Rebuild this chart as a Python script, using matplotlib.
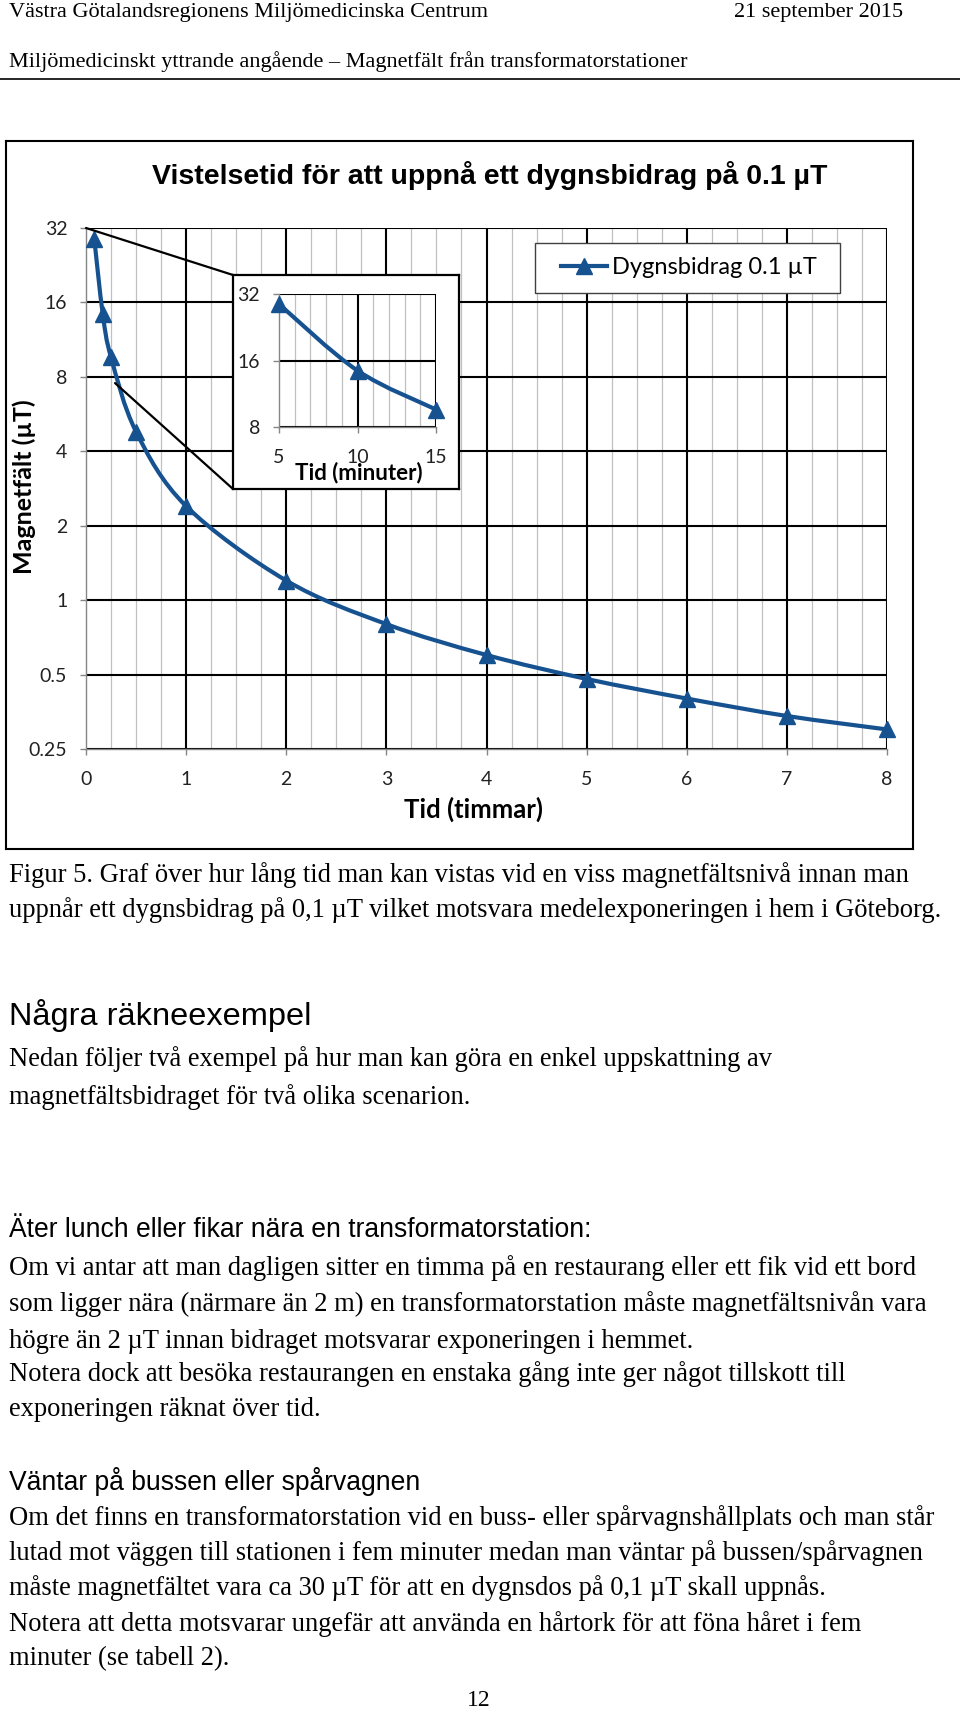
import matplotlib
matplotlib.use('Agg')
import matplotlib.pyplot as plt
import numpy as np
from matplotlib.path import Path
from matplotlib.patches import PathPatch, Rectangle, ConnectionPatch
from matplotlib.lines import Line2D
from matplotlib.ticker import FixedLocator, NullLocator, MultipleLocator

# data
tid_timmar = [0.083, 0.167, 0.25, 0.5, 1, 2, 3, 4, 5, 6, 7, 8]
falt_ut = [28.8, 14.4, 9.6, 4.8, 2.4, 1.2, 0.8, 0.6, 0.48, 0.4, 0.34, 0.3]
tid_minuter = [5, 10, 15]
falt_inset = [28.8, 14.4, 9.6]
x_ticks = [0, 1, 2, 3, 4, 5, 6, 7, 8]
y_ticks = [0.25, 0.5, 1, 2, 4, 8, 16, 32]
y_ticklabels = ['0.25', '0.5', '1', '2', '4', '8', '16', '32']
inset_x_ticks = [5, 10, 15]
inset_y_ticks = [8, 16, 32]
inset_y_ticklabels = ['8', '16', '32']

title = 'Vistelsetid för att uppnå ett dygnsbidrag på 0.1 µT'
serie_namn = 'Dygnsbidrag 0.1 µT'

W, H = 960, 1714
BLUE = '#175290'
SERIF = ['Liberation Serif', 'DejaVu Serif']
SANS = ['Liberation Sans', 'DejaVu Sans']
plt.rcParams['font.family'] = ['Lato', 'DejaVu Sans']


def fx(px):
    return px / W


def fy(py):
    return 1 - py / H


def smooth_line(ax, xs, ys, **kw):
    # excel style smoothed line (catmull-rom as bezier), built in log2 space
    p = np.column_stack([xs, np.log2(ys)])
    n = len(p)
    verts = [p[0]]
    codes = [Path.MOVETO]
    for i in range(n - 1):
        p0 = p[max(i - 1, 0)]
        p1 = p[i]
        p2 = p[i + 1]
        p3 = p[min(i + 2, n - 1)]
        verts += [p1 + (p2 - p0) / 6, p2 - (p3 - p1) / 6, p2]
        codes += [Path.CURVE4] * 3
    verts = np.array(verts)
    verts[:, 1] = 2 ** verts[:, 1]
    ax.add_patch(PathPatch(Path(verts, codes), fill=False, transform=ax.transData,
                           capstyle='round', joinstyle='round', **kw))


def style_grid(ax):
    ax.set_yscale('log', base=2)
    ax.yaxis.set_minor_locator(NullLocator())
    ax.grid(which='major', color='black', lw=1.5)
    ax.grid(which='minor', axis='x', color='#c0c0c0', lw=0.9)
    ax.tick_params(which='minor', length=0)
    ax.tick_params(which='major', length=4.5, width=1, color='#868686',
                   labelsize=14, labelcolor='#222222')
    ax.tick_params(axis='x', pad=11.5)
    ax.tick_params(axis='y', pad=9)
    for s in ['top', 'right']:
        ax.spines[s].set_visible(False)
    for s in ['left', 'bottom']:
        ax.spines[s].set_color('#868686')
        ax.spines[s].set_linewidth(1)
    ax.set_axisbelow(True)


fig = plt.figure(figsize=(W / 100, H / 100), dpi=100)

# chart frame
frame = fig.add_axes([fx(6), fy(849), fx(913) - fx(6), fy(141) - fy(849)], zorder=-1)
frame.set_xticks([])
frame.set_yticks([])
for s in frame.spines.values():
    s.set_linewidth(1.5)

# main chart
ax = fig.add_axes([fx(86), fy(749), fx(887) - fx(86), fy(228) - fy(749)], zorder=0)
style_grid(ax)
ax.set_xlim(0, 8)
ax.set_ylim(0.25, 32)
ax.set_xticks(x_ticks)
ax.xaxis.set_minor_locator(MultipleLocator(0.25))
ax.yaxis.set_major_locator(FixedLocator(y_ticks))
ax.set_yticklabels(y_ticklabels)
ax.xaxis.get_gridlines()[0].set_visible(False)
smooth_line(ax, tid_timmar, falt_ut, color=BLUE, lw=3, zorder=3)
ax.plot(tid_timmar, falt_ut, ls='none', marker='^', ms=12, color=BLUE, clip_on=False, zorder=4)
ax.set_xlim(0, 8)
ax.set_ylim(0.25, 32)

fig.text(fx(490), fy(175), title, ha='center', va='center', fontsize=20.5, fontweight='bold',
         family=['Liberation Sans Narrow', 'Liberation Sans', 'DejaVu Sans'])
fig.text(fx(24), fy(487), 'Magnetfält (µT)', rotation=90, ha='center', va='center',
         fontsize=18, fontweight='bold')
fig.text(fx(473), fy(809), 'Tid (timmar)', ha='center', va='center', fontsize=18.5, fontweight='bold')

# legend
fig.add_artist(Rectangle((fx(535), fy(293)), fx(840) - fx(535), fy(243) - fy(293),
                         transform=fig.transFigure, facecolor='white', edgecolor='#404040',
                         lw=1, zorder=2))
h = Line2D([], [], color=BLUE, lw=3, marker='^', ms=12)
fig.legend([h], [serie_namn], loc='center', bbox_to_anchor=(fx(689), fy(268)), frameon=False,
           fontsize=17, handlelength=1.95, handletextpad=0.2, borderpad=0, borderaxespad=0)

# inset
frame_in = fig.add_axes([fx(233), fy(489), fx(459) - fx(233), fy(275) - fy(489)], zorder=3)
frame_in.set_xticks([])
frame_in.set_yticks([])
for s in frame_in.spines.values():
    s.set_linewidth(1.6)

axi = fig.add_axes([fx(279), fy(427), fx(436) - fx(279), fy(294) - fy(427)], zorder=4)
style_grid(axi)
axi.set_xlim(5, 15)
axi.set_ylim(8, 32)
axi.set_xticks(inset_x_ticks)
axi.xaxis.set_minor_locator(MultipleLocator(1))
axi.yaxis.set_major_locator(FixedLocator(inset_y_ticks))
axi.set_yticklabels(inset_y_ticklabels)
axi.xaxis.get_gridlines()[0].set_visible(False)
smooth_line(axi, tid_minuter, falt_inset, color=BLUE, lw=3, zorder=3)
axi.plot(tid_minuter, falt_inset, ls='none', marker='^', ms=12, color=BLUE, clip_on=False, zorder=4)
axi.set_xlim(5, 15)
axi.set_ylim(8, 32)
fig.text(fx(359), fy(473), 'Tid (minuter)', ha='center', va='center', fontsize=16,
         fontweight='bold', zorder=6)

con1 = ConnectionPatch(xyA=(0, 32), coordsA='data', axesA=ax, xyB=(0, 1),
                       coordsB='axes fraction', axesB=frame_in, color='black', lw=1.6, zorder=5)
con2 = ConnectionPatch(xyA=(0.29, 7.55), coordsA='data', axesA=ax, xyB=(0, 0),
                       coordsB='axes fraction', axesB=frame_in, color='black', lw=1.6, zorder=5)
fig.add_artist(con1)
fig.add_artist(con2)

# page text
fig.text(fx(9), fy(13), 'Västra Götalandsregionens Miljömedicinska Centrum', va='center',
         fontsize=16, family=SERIF)
fig.text(fx(903), fy(13), '21 september 2015', ha='right', va='center', fontsize=16, family=SERIF)
fig.text(fx(9), fy(62), 'Miljömedicinskt yttrande angående – Magnetfält från transformatorstationer',
         va='center', fontsize=16, family=SERIF)
fig.add_artist(Line2D([0, 1], [fy(79), fy(79)], transform=fig.transFigure, color='black', lw=1.2))

body = [
    (875, 'Figur 5. Graf över hur lång tid man kan vistas vid en viss magnetfältsnivå innan man'),
    (910, 'uppnår ett dygnsbidrag på 0,1 µT vilket motsvara medelexponeringen i hem i Göteborg.'),
    (1059, 'Nedan följer två exempel på hur man kan göra en enkel uppskattning av'),
    (1097, 'magnetfältsbidraget för två olika scenarion.'),
    (1268, 'Om vi antar att man dagligen sitter en timma på en restaurang eller ett fik vid ett bord'),
    (1304, 'som ligger nära (närmare än 2 m) en transformatorstation måste magnetfältsnivån vara'),
    (1341, 'högre än 2 µT innan bidraget motsvarar exponeringen i hemmet.'),
    (1374, 'Notera dock att besöka restaurangen en enstaka gång inte ger något tillskott till'),
    (1410, 'exponeringen räknat över tid.'),
    (1518, 'Om det finns en transformatorstation vid en buss- eller spårvagnshållplats och man står'),
    (1553, 'lutad mot väggen till stationen i fem minuter medan man väntar på bussen/spårvagnen'),
    (1588, 'måste magnetfältet vara ca 30 µT för att en dygnsdos på 0,1 µT skall uppnås.'),
    (1624, 'Notera att detta motsvarar ungefär att använda en hårtork för att föna håret i fem'),
    (1659, 'minuter (se tabell 2).'),
]
for y, line in body:
    fig.text(fx(9), fy(y), line, va='center', fontsize=19.1, family=SERIF)

fig.text(fx(9), fy(1016), 'Några räkneexempel', va='center', fontsize=23.4, family=SANS)
fig.text(fx(9), fy(1230), 'Äter lunch eller fikar nära en transformatorstation:', va='center',
         fontsize=19.1, family=SANS)
fig.text(fx(9), fy(1481), 'Väntar på bussen eller spårvagnen', va='center', fontsize=19.1, family=SANS)
fig.text(fx(479), fy(1700), '12', ha='center', va='center', fontsize=17, family=SERIF)

fig.savefig('out.png', dpi=100, facecolor='white')
